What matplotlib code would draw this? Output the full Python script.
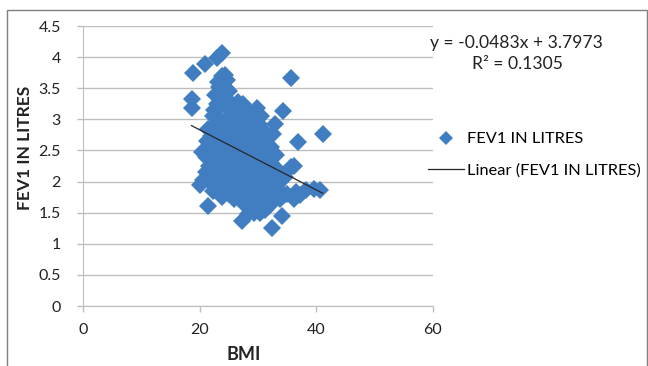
import matplotlib.pyplot as plt
from matplotlib.patches import Rectangle

plt.rcParams['font.family'] = ['Lato', 'DejaVu Sans']

# BMI / FEV1 points
bmi = [18.9, 20.9, 22.9, 23.9, 18.6, 18.6, 35.6, 34.2, 41.1, 36.9, 32.9, 32.5, 35.7, 36.2,
       23.8, 24.4, 24.7, 23.3, 23.2, 24.0, 24.5,
       22.6, 24.0, 25.0, 23.6,
       22.5, 24.5, 27.5, 28.5, 29.8, 26.3, 23.0, 25.5, 26.5,
       22.3, 23.5, 25.2, 27.0, 28.2, 30.5, 29.5,
       22.8, 24.3, 25.8, 27.3, 28.8, 30.2,
       21.5, 22.8, 24.0, 25.5, 26.8, 28.0, 29.2, 30.6, 31.5,
       22.0, 23.2, 24.6, 26.0, 27.3, 28.6, 30.0,
       21.3, 22.5, 23.8, 25.0, 26.2, 27.5, 28.8, 30.0, 31.2, 32.3,
       21.8, 23.0, 24.2, 25.5, 26.8, 28.0, 29.2, 30.4, 31.7,
       20.4, 21.0, 22.2, 23.5, 24.7, 26.0, 27.2, 28.5, 29.7, 31.0, 32.2, 33.0,
       22.2, 23.4, 24.6, 25.8, 27.0, 28.2, 29.4, 30.6,
       21.6, 22.8, 24.0, 25.3, 26.6, 27.8, 29.0, 30.2, 31.4, 32.5, 32.2, 33.3,
       21.0, 23.2, 24.5, 25.8, 27.2, 28.5, 29.8, 31.0,
       20.5, 21.8, 23.0, 24.3, 25.6, 26.9, 28.2, 29.5, 30.8, 32.0, 33.2, 34.6,
       22.2, 22.6, 24.0, 25.2, 26.5, 27.8, 29.1, 30.4, 31.8,
       20.1, 22.3, 23.5, 24.8, 26.0, 27.4, 28.7, 30.0, 31.3, 32.6, 33.8, 35.0, 36.5, 38.2, 39.6, 40.6,
       25.0, 26.5, 28.0, 29.4, 30.8, 32.0, 33.0, 34.5,
       21.5, 23.8, 25.8, 27.5, 28.8, 30.0, 31.2, 29.3, 32.5, 33.8, 36.2, 37.2, 30.5, 31.8,
       27.2, 32.4, 34.1, 28.3, 30.3]
fev1 = [3.75, 3.89, 3.99, 4.07, 3.33, 3.19, 3.67, 3.14, 2.76, 2.64, 2.93, 2.76, 2.23, 2.25,
        3.70, 3.71, 3.63, 3.52, 3.60, 3.55, 3.50,
        3.39, 3.39, 3.45, 3.30,
        3.15, 3.20, 3.25, 3.12, 3.18, 3.10, 3.25, 3.25, 3.28,
        3.05, 3.00, 3.02, 3.00, 2.98, 3.05, 2.95,
        2.92, 2.95, 2.92, 2.92, 2.88, 2.92,
        2.85, 2.80, 2.88, 2.82, 2.86, 2.80, 2.78, 2.85, 2.72,
        2.73, 2.75, 2.75, 2.75, 2.73, 2.72, 2.70,
        2.65, 2.60, 2.68, 2.62, 2.70, 2.60, 2.66, 2.60, 2.63, 2.55,
        2.55, 2.52, 2.55, 2.52, 2.55, 2.52, 2.55, 2.50, 2.52,
        2.47, 2.39, 2.45, 2.42, 2.48, 2.40, 2.46, 2.40, 2.45, 2.40, 2.48, 2.42,
        2.35, 2.32, 2.35, 2.32, 2.35, 2.32, 2.35, 2.30,
        2.25, 2.22, 2.28, 2.20, 2.26, 2.20, 2.27, 2.21, 2.25, 2.18, 2.30, 2.20,
        2.15, 2.12, 2.15, 2.10, 2.12, 2.13, 2.12, 2.10,
        2.02, 2.08, 2.00, 2.05, 1.98, 2.06, 2.00, 2.06, 1.98, 2.04, 1.95, 2.07,
        1.95, 1.95, 1.95, 1.92, 1.95, 1.90, 1.94, 1.90, 1.92,
        1.94, 1.85, 1.90, 1.82, 1.88, 1.80, 1.87, 1.80, 1.86, 1.78, 1.85, 1.80, 1.84, 1.86, 1.88, 1.86,
        1.80, 1.78, 1.75, 1.72, 1.72, 1.65, 1.75, 1.78,
        1.60, 1.75, 1.72, 1.65, 1.58, 1.62, 1.55, 1.50, 1.68, 1.72, 1.72, 1.78, 1.55, 1.60,
        1.37, 1.26, 1.45, 1.48, 1.50]

# trend line as printed on the chart
slope = -0.0483
intercept = 3.7973
r2 = 0.1305

xticks = [0, 20, 40, 60]
yticks = [0, 0.5, 1, 1.5, 2, 2.5, 3, 3.5, 4, 4.5]

blue = '#417DC1'
grid_c = '#BEBEBE'
txt_c = '#222222'

fig = plt.figure(figsize=(6.48, 3.66), dpi=100)
ax = fig.add_axes([83/648, 1 - 306/366, 350/648, 280/366])

ax.plot(bmi, fev1, linestyle='none', marker='D', markersize=9.5, color=blue,
        markeredgewidth=0, label='FEV1 IN LITRES', zorder=3)
x0, x1 = min(bmi), max(bmi)
ax.plot([x0, x1], [slope*x0 + intercept, slope*x1 + intercept], color='#262626',
        lw=0.9, label='Linear (FEV1 IN LITRES)', zorder=4)

ax.set_xlim(0, 60)
ax.set_ylim(0, 4.5)
ax.set_xticks(xticks)
ax.set_yticks(yticks)
ax.set_yticklabels(['0', '0.5', '1', '1.5', '2', '2.5', '3', '3.5', '4', '4.5'])
ax.yaxis.grid(True, color=grid_c, lw=1)
ax.set_axisbelow(True)
for s in ['top', 'right']:
    ax.spines[s].set_visible(False)
for s in ['left', 'bottom']:
    ax.spines[s].set_color(grid_c)
ax.tick_params(axis='both', colors=grid_c, labelcolor=txt_c, labelsize=11.5,
               length=4, width=1)
ax.tick_params(axis='x', pad=8)
ax.tick_params(axis='y', pad=12)

fig.text(25/648, 1 - 148/366, 'FEV1 IN LITRES', rotation=90, ha='center', va='center',
         fontsize=12.5, fontweight='bold', color=txt_c)
fig.text(244/648, 1 - 355/366, 'BMI', ha='center', va='center',
         fontsize=13, fontweight='bold', color=txt_c)

fig.text(516/648, 1 - 43/366, 'y = {:.4f}x + {:.4f}'.format(slope, intercept),
         ha='center', va='center', fontsize=12.6, color=txt_c)
fig.text(517/648, 1 - 64/366, 'R² = {:.4f}'.format(r2),
         ha='center', va='center', fontsize=12.6, color=txt_c)

ax.legend(loc='upper left', bbox_to_anchor=(428/648, 1 - 132/366),
          bbox_transform=fig.transFigure, frameon=False, fontsize=11.8,
          borderpad=0, borderaxespad=0, handlelength=2.2, handletextpad=0.2,
          labelspacing=1.05, markerscale=0.7)

fig.patches.append(Rectangle((7/648, -0.1), 640/648, 1.1 - 10/366,
                             transform=fig.transFigure, fill=False,
                             edgecolor='#7F7F7F', lw=1))

fig.savefig('out.png', dpi=100)
